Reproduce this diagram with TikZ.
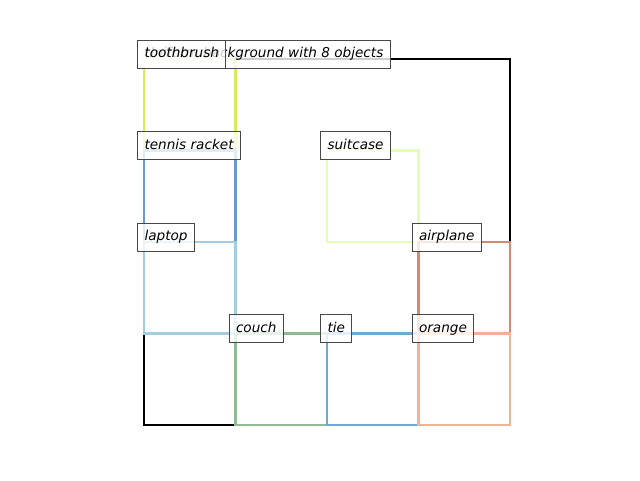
\documentclass[tikz,border=0pt]{standalone}
\usepackage{fontspec}
\setmainfont{DejaVu Sans}
\definecolor{ctooth}{HTML}{D6EC5E}
\definecolor{ctennis}{HTML}{6A9BD0}
\definecolor{claptop}{HTML}{A3CCDF}
\definecolor{csuit}{HTML}{E3FDB4}
\definecolor{cair}{HTML}{D5886A}
\definecolor{ccouch}{HTML}{8FBA92}
\definecolor{ctie}{HTML}{70A8D4}
\definecolor{corange}{HTML}{F0B494}
\begin{document}
\begin{tikzpicture}[x=0.75pt,y=-0.75pt,
  lbl/.style={draw=black!72, line width=0.75pt, fill=white, fill opacity=0.8, text opacity=1,
    anchor=west, inner xsep=5.25pt, inner ysep=0pt, minimum height=21pt,
    text height=7.8pt, text depth=2.4pt,
    font=\fontsize{10.2}{12}\selectfont\itshape},
  obj/.style={line width=1.7pt}]
\useasboundingbox (0,0) rectangle (640,480);
% background
\draw[line width=1.7pt, black] (144,59) rectangle (510,425);
% object boxes
\draw[obj, ctooth]  (144,59)    rectangle (235.5,150.5);
\draw[obj, ctennis] (144,150.5) rectangle (235.5,242);
\draw[obj, csuit]   (327,150.5) rectangle (418.5,242);
\draw[obj, claptop] (144,242)   rectangle (235.5,333.5);
\draw[obj, cair]    (418.5,242) rectangle (510,333.5);
\draw[obj, ccouch]  (235.5,333.5) rectangle (327,425);
\draw[obj, ctie]    (327,333.5) rectangle (418.5,425);
\draw[obj, corange] (418.5,333.5) rectangle (510,425);
% labels
\node[lbl] (title) at (137,54) {Uniform background with 8 objects};
\node[lbl] (toothbrush) at (137,54) {toothbrush};
\node[lbl] (tennis) at (137,145.5) {tennis racket};
\node[lbl] (suitcase) at (320,145.5) {suitcase};
\node[lbl] (laptop) at (137,237) {laptop};
\node[lbl] (airplane) at (411.5,237) {airplane};
\node[lbl] (couch) at (228.5,328.5) {couch};
\node[lbl] (tie) at (320,328.5) {tie};
\node[lbl] (orange) at (411.5,328.5) {orange};
\end{tikzpicture}
\end{document}
